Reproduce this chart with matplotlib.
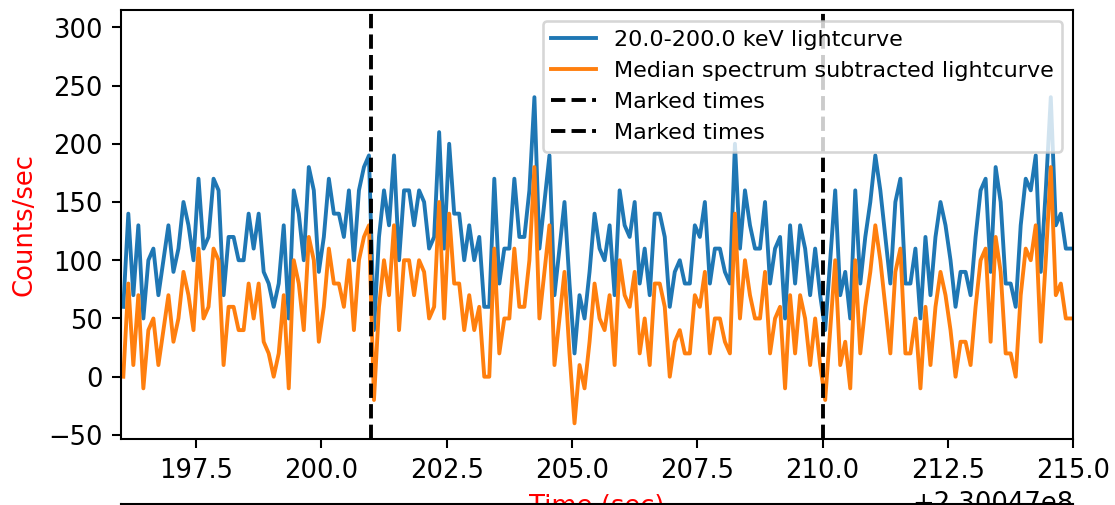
import numpy as np
import matplotlib
matplotlib.use("Agg")
import matplotlib.pyplot as plt

# time axis: offset + seconds, 0.1 s bins
t_offset = 2.30047e8
t_first = 196.05
bin_size = 0.1

# 20-200 keV counts/sec
rate = [
    60, 140, 70, 130, 50, 100, 110, 70, 100, 130,
    90, 110, 150, 130, 100, 170, 110, 120, 170, 160,
    70, 120, 120, 100, 100, 140, 110, 140, 90, 80,
    60, 80, 130, 50, 160, 140, 100, 180, 160, 90,
    120, 170, 140, 140, 120, 160, 100, 160, 180, 190,
    40, 120, 160, 130, 190, 100, 160, 160, 130, 160,
    150, 110, 120, 210, 110, 200, 140, 140, 100, 130,
    100, 120, 60, 60, 170, 80, 110, 110, 170, 120,
    120, 160, 240, 110, 150, 190, 70, 110, 150, 80,
    20, 70, 50, 90, 140, 110, 100, 130, 70, 160,
    130, 120, 150, 80, 110, 70, 140, 140, 120, 60,
    90, 100, 80, 80, 130, 120, 150, 80, 110, 110,
    90, 80, 200, 110, 160, 130, 110, 110, 150, 80,
    110, 120, 50, 130, 80, 130, 110, 70, 110, 70,
    40, 100, 160, 70, 90, 50, 160, 80, 120, 150,
    190, 160, 120, 80, 150, 170, 80, 80, 110, 50,
    120, 70, 120, 150, 130, 100, 60, 90, 90, 70,
    120, 160, 170, 90, 180, 150, 80, 80, 60, 130,
    170, 160, 190, 90, 160, 240, 130, 140, 110, 110,
    110,
]
median_level = 60  # median spectrum level subtracted
marked_times = [201.0, 210.0]

x_range = (196.0, 215.0)
y_range = (-53.7, 315.2)

dpi = 186
fig = plt.figure(figsize=(1115.4 / dpi, 505.4 / dpi), dpi=dpi)
ax = fig.add_axes([0.1083, 0.1301, 0.854, 0.8501])

time = t_offset + t_first + bin_size * np.arange(len(rate))
rate = np.array(rate)

ax.plot(time, rate, label='20.0-200.0 keV lightcurve')
ax.plot(time, rate - median_level, label='Median spectrum subtracted lightcurve')
for tm in marked_times:
    ax.axvline(t_offset + tm, color='k', linestyle='--', linewidth=1.5, label='Marked times')

ax.set_xlim(t_offset + x_range[0], t_offset + x_range[1])
ax.set_ylim(y_range)
ax.set_xlabel('Time (sec)', color='red')
ax.set_ylabel('Counts/sec', color='red')
ax.legend(loc='upper right', fontsize=8.6)

# next panel below is cut off, only its top edge shows
ax2 = fig.add_axes([0.1083, -0.8, 0.854, 0.8026])
ax2.set_xticks([])
ax2.set_yticks([])

fig.savefig('out.png', dpi=dpi)
